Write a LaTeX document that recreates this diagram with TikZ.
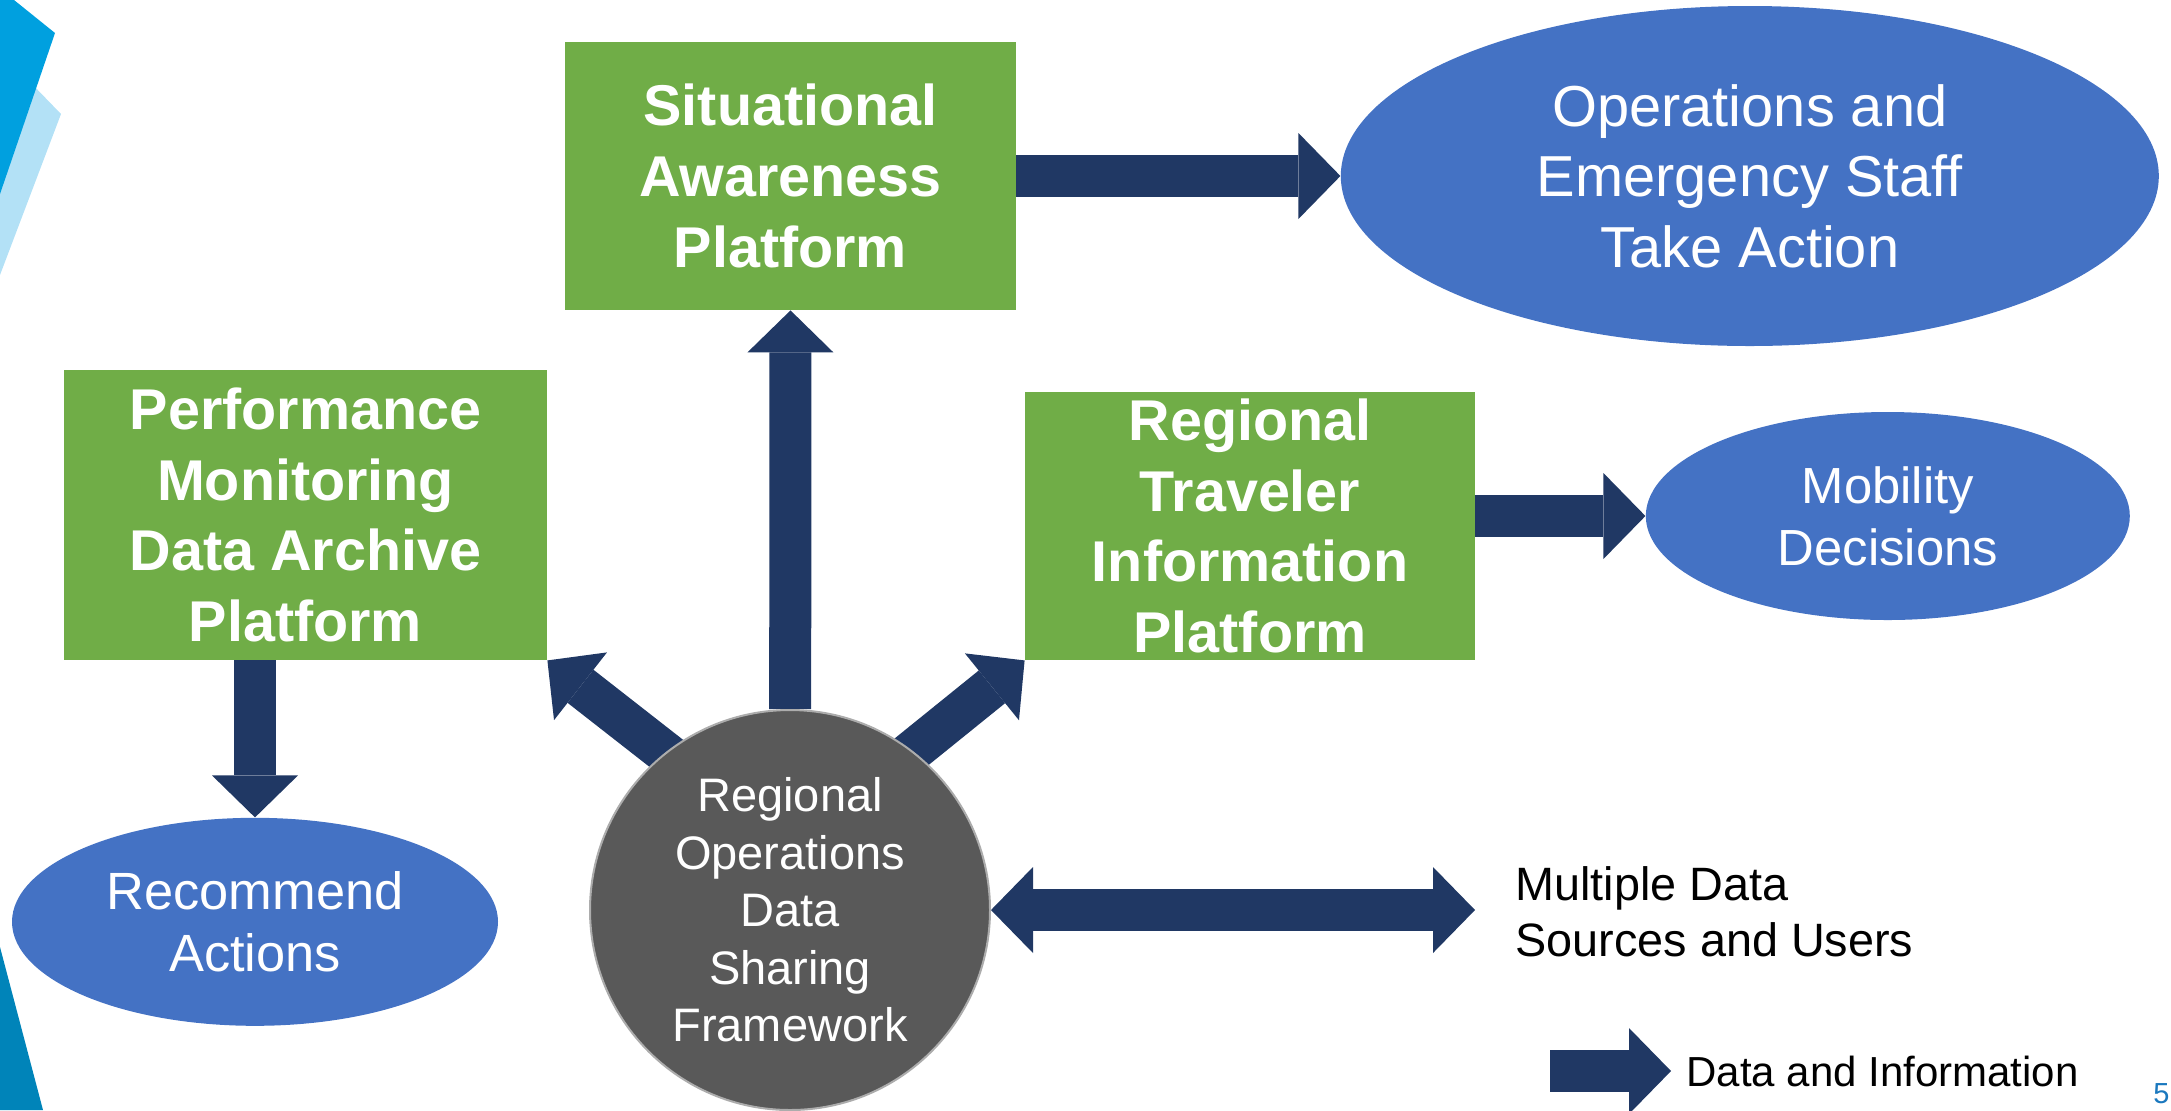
\documentclass[tikz,border=0pt]{standalone}
\usepackage{fontspec}
\setmainfont{Liberation Sans}
\usetikzlibrary{positioning,shapes.geometric,arrows.meta,backgrounds}

\definecolor{pgreen}{HTML}{70AD47}
\definecolor{pblue}{HTML}{4472C4}
\definecolor{pnavy}{HTML}{203864}
\definecolor{pgray}{HTML}{595959}
\definecolor{bandblue}{HTML}{00A0DF}
\definecolor{bandlight}{HTML}{B3E1F6}
\definecolor{bandteal}{HTML}{0084B9}
\definecolor{pagenum}{HTML}{1A78BE}

\tikzset{
  platform/.style={fill=pgreen,text=white,align=center,inner sep=0pt,
    font=\bfseries\fontsize{28.75}{35.3}\selectfont},
  outcome/.style={ellipse,fill=pblue,text=white,align=center,inner sep=0pt},
  hub/.style={circle,fill=pgray,draw=gray!65,line width=1pt,text=white,
    align=center,inner sep=0pt,minimum size=200pt,
    font=\fontsize{23.5}{28.75}\selectfont},
  flow/.style={draw=pnavy,line width=21pt,-{Triangle[width=43pt,length=21pt,line width=0pt]}},
  twoway/.style={draw=pnavy,line width=21pt,
    {Triangle[width=43pt,length=21pt,line width=0pt]}-{Triangle[width=43pt,length=21pt,line width=0pt]}},
}

\begin{document}
\begin{tikzpicture}[x=0.5pt,y=-0.5pt]
    \useasboundingbox (0,0) rectangle (2171,1110);

    % platforms
    \node[platform,minimum width=225.5pt,minimum height=134pt] (sa) at (790.5,176) {Situational\\Awareness\\Platform};
    \node[platform,minimum width=241.5pt,minimum height=145pt] (perf) at (305.5,515) {Performance\\Monitoring\\Data Archive\\Platform};
    \node[platform,minimum width=225pt,minimum height=134pt] (rtip) at (1250,526) {Regional\\Traveler\\Information\\Platform};

    % outcomes
    \node[outcome,minimum width=409pt,minimum height=170pt,right=162pt of sa,
      font=\fontsize{28.9}{35.3}\selectfont] (ops) {Operations and\\Emergency Staff\\Take Action};
    \node[outcome,minimum width=242pt,minimum height=104pt,right=85pt of rtip,yshift=5pt,
      font=\fontsize{25.4}{31}\selectfont] (mob) {Mobility\\Decisions};
    \node[outcome,minimum width=243pt,minimum height=104pt,below=78.5pt of perf,xshift=-25.25pt,
      font=\fontsize{26.2}{31}\selectfont] (rec) {Recommend\\Actions};

    % data sharing hub
    \node[hub] (rods) at (790,910) {Regional\\Operations\\Data\\Sharing\\Framework};
    \coordinate (hubtop) at ([yshift=30pt]rods.center);

    \node[anchor=west,align=left,inner sep=0pt,font=\fontsize{23.4}{28}\selectfont] (msrc) at (1515,912) {Multiple Data\\Sources and Users};
    \coordinate (mend) at (1475,910);

    % legend
    \coordinate (legtail) at (1550,1071);
    \node[anchor=west,inner sep=0pt,inner xsep=7.5pt,font=\fontsize{21}{25}\selectfont] (legtxt) at (1671,1071) {Data and Information};
    \node[anchor=base west,inner sep=0pt,text=pagenum,font=\fontsize{14.5}{17}\selectfont] (pnum) at (2153,1103) {5};

    \begin{pgfonlayer}{background}
      % slide corner bands
      \fill[bandlight] (0,51) -- (61,114) -- (0,275) -- cycle;
      \fill[bandblue] (0,0) -- (14,0) -- (55,33) -- (0,194) -- cycle;
      \fill[bandteal] (0,947) -- (43,1110) -- (0,1110) -- cycle;

      % data flows
      \draw[flow] (sa.east |- ops.west) -- (ops.west);
      \draw[flow] (rtip.east |- mob.west) -- (mob.west);
      \draw[flow] (perf.south -| rec.north) -- (rec.north);
      \draw[flow] (rods) -- (sa.south);
      \draw[flow] (hubtop) -- (perf.south east);
      \draw[flow] (hubtop) -- (rtip.south west);
      \draw[twoway] (rods.east) -- (mend);
      \draw[flow] (legtail) -- (legtxt.west);
    \end{pgfonlayer}
\end{tikzpicture}
\end{document}
